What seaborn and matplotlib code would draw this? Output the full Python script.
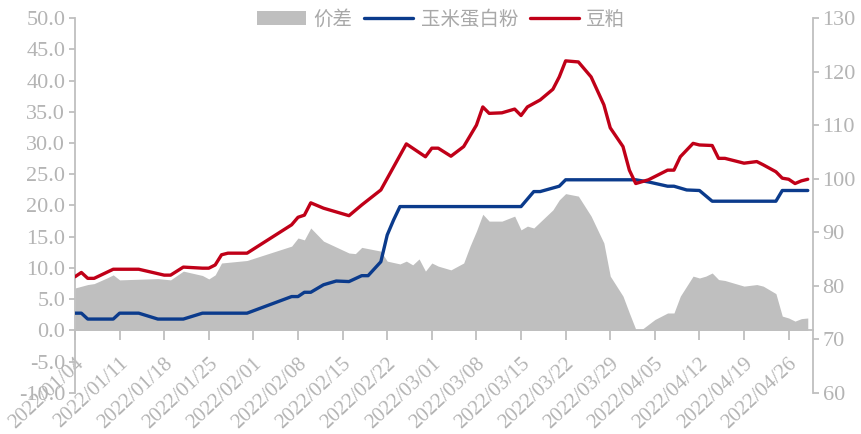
import numpy as np
import pandas as pd
import matplotlib
matplotlib.use('Agg')
import matplotlib.pyplot as plt
import matplotlib.transforms as mtransforms
import seaborn as sns
from matplotlib.patches import Patch
from matplotlib.lines import Line2D

# 豆粕 (right axis)
red_dates = ['01/04', '01/05', '01/06', '01/07', '01/10', '01/14', '01/18', '01/19', '01/21', '01/24',
             '01/25', '01/26', '01/27', '01/28', '01/31', '02/07', '02/08', '02/09', '02/10', '02/12',
             '02/16', '02/18', '02/21', '02/23', '02/25', '02/28', '03/01', '03/02', '03/04', '03/06',
             '03/07', '03/08', '03/09', '03/10', '03/12', '03/14', '03/15', '03/16', '03/18', '03/20',
             '03/21', '03/22', '03/24', '03/26', '03/28', '03/29', '03/31', '04/01', '04/02', '04/04',
             '04/07', '04/08', '04/09', '04/11', '04/12', '04/14', '04/15', '04/16', '04/19', '04/21',
             '04/22', '04/24', '04/25', '04/26', '04/27', '04/28', '04/29']
red_vals = [81.7, 82.5, 81.4, 81.4, 83.1, 83.1, 82.0, 82.0, 83.5, 83.3,
            83.3, 83.9, 85.8, 86.1, 86.1, 91.4, 92.8, 93.2, 95.5, 94.5,
            93.1, 95.1, 97.9, 102.2, 106.5, 104.1, 105.7, 105.7, 104.2, 106.0,
            108.0, 110.0, 113.4, 112.2, 112.3, 113.0, 111.8, 113.4, 114.7, 116.7,
            119.0, 122.0, 121.8, 119.0, 113.8, 109.5, 106.0, 101.6, 99.1, 99.8,
            101.6, 101.6, 104.1, 106.6, 106.3, 106.2, 103.8, 103.8, 102.9, 103.2,
            102.6, 101.3, 100.1, 99.9, 99.1, 99.6, 99.9]

# 玉米蛋白粉 (right axis)
blue_dates = ['01/04', '01/05', '01/06', '01/10', '01/11', '01/14', '01/17', '01/21', '01/24', '01/31',
              '02/07', '02/08', '02/09', '02/10', '02/12', '02/14', '02/16', '02/18', '02/19', '02/21',
              '02/22', '02/23', '02/24', '03/15', '03/17', '03/18', '03/21', '03/22', '04/02', '04/04',
              '04/07', '04/08', '04/10', '04/12', '04/14', '04/24', '04/25', '04/29']
blue_vals = [74.9, 74.9, 73.8, 73.8, 74.9, 74.9, 73.8, 73.8, 74.9, 74.9,
             78.0, 78.0, 78.8, 78.8, 80.2, 80.9, 80.8, 81.9, 81.9, 84.5,
             89.5, 92.3, 94.8, 94.8, 97.6, 97.6, 98.6, 99.8, 99.8, 99.4,
             98.6, 98.6, 97.9, 97.8, 95.8, 95.8, 97.8, 97.8]

# 价差 (left axis)
gap_dates = ['01/04', '01/06', '01/07', '01/09', '01/10', '01/11', '01/17', '01/19', '01/21', '01/24',
             '01/25', '01/26', '01/27', '01/31', '02/07', '02/08', '02/09', '02/10', '02/12', '02/16',
             '02/17', '02/18', '02/21', '02/22', '02/24', '02/25', '02/26', '02/27', '02/28', '03/01',
             '03/02', '03/04', '03/06', '03/07', '03/08', '03/09', '03/10', '03/12', '03/14', '03/15',
             '03/16', '03/17', '03/20', '03/21', '03/22', '03/24', '03/26', '03/28', '03/29', '03/31',
             '04/01', '04/02', '04/03', '04/05', '04/07', '04/08', '04/09', '04/11', '04/12', '04/13',
             '04/14', '04/15', '04/16', '04/19', '04/21', '04/22', '04/24', '04/25', '04/26', '04/27',
             '04/28', '04/29']
gap_vals = [6.8, 7.35, 7.5, 8.4, 8.9, 8.1, 8.3, 8.1, 9.5, 8.8,
            8.25, 8.9, 10.8, 11.2, 13.5, 14.8, 14.5, 16.4, 14.3, 12.4,
            12.3, 13.3, 12.7, 11.1, 10.65, 11.1, 10.5, 11.45, 9.5, 10.8,
            10.3, 9.7, 10.8, 13.5, 15.9, 18.6, 17.5, 17.5, 18.3, 16.1,
            16.7, 16.4, 19.3, 20.9, 21.9, 21.5, 18.3, 14.0, 8.7, 5.5,
            2.8, 0.2, 0.2, 1.75, 2.8, 2.8, 5.5, 8.7, 8.4, 8.7,
            9.2, 8.15, 8.0, 7.1, 7.35, 7.1, 5.9, 2.3, 2.0, 1.5,
            1.9, 2.0]

def to_dt(lst):
    return pd.to_datetime(['2022/' + d for d in lst], format='%Y/%m/%d')

sns.set_style('white')
plt.rcParams['font.family'] = ['Liberation Serif', 'Noto Sans CJK SC']
plt.rcParams['axes.unicode_minus'] = False

c_gray = '#bfbfbf'
c_red = '#c00018'
c_blue = '#0b3b8c'
c_txt = '#b4b4b4'

fig = plt.figure(figsize=(8.62, 4.34), dpi=100)
ax = fig.add_axes([0.087, 0.0945, 0.856, 0.864])
ax2 = ax.twinx()

ax.fill_between(to_dt(gap_dates), 0, gap_vals, color=c_gray, lw=0)
sns.lineplot(x=to_dt(blue_dates), y=blue_vals, ax=ax2, color=c_blue, lw=2.4)
sns.lineplot(x=to_dt(red_dates), y=red_vals, ax=ax2, color=c_red, lw=2.4)

start = pd.Timestamp('2022-01-04')
ax.set_xlim(start, start + pd.Timedelta(days=115.8))
ax.set_ylim(-10, 50)
ax2.set_ylim(60, 130)
ax.set_yticks(np.arange(-10, 51, 5))
ax.set_yticklabels([f'{v:.1f}' for v in np.arange(-10, 51, 5)])
ax2.set_yticks(np.arange(60, 131, 10))
ax.set_xlabel('')
ax2.set_xlabel('')
ax2.set_ylabel('')

ax.spines['bottom'].set_position(('data', 0))
for s in ['top', 'right']:
    ax.spines[s].set_visible(False)
for s in ['top', 'left', 'bottom']:
    ax2.spines[s].set_visible(False)
for s in ['left', 'bottom']:
    ax.spines[s].set_color(c_gray)
    ax.spines[s].set_linewidth(1.3)
ax2.spines['right'].set_color(c_gray)
ax2.spines['right'].set_linewidth(1.3)

ax.tick_params(axis='y', direction='out', length=4, width=1.3, color=c_gray,
               labelcolor=c_txt, labelsize=16, left=True, pad=3)
ax.tick_params(axis='x', direction='out', length=7, width=1.3, color=c_gray,
               labelcolor=c_txt, labelsize=15, bottom=True, pad=2)
ax2.tick_params(axis='y', direction='out', length=4, width=1.3, color=c_gray,
                labelcolor=c_txt, labelsize=16, right=True, pad=3)
ax.grid(False)
ax2.grid(False)

# date ticks, weekly from the first day
ticks = pd.date_range('2022-01-04', '2022-04-26', freq='7D')
ax.set_xticks(ticks)
ax.set_xticklabels([t.strftime('%Y/%m/%d') for t in ticks])
shift = mtransforms.ScaledTranslation(0.06, -0.18, fig.dpi_scale_trans)
for lab in ax.get_xticklabels():
    lab.set_rotation(43)
    lab.set_ha('right')
    lab.set_va('center')
    lab.set_rotation_mode('anchor')
    lab.set_fontsize(15)
    lab.set_color(c_txt)
    lab.set_transform(lab.get_transform() + shift)

handles = [Patch(facecolor=c_gray, edgecolor='none', label='价差'),
           Line2D([], [], color=c_blue, lw=2.4, label='玉米蛋白粉'),
           Line2D([], [], color=c_red, lw=2.4, label='豆粕')]
fig.legend(handles=handles, loc='center', bbox_to_anchor=(0.512, 0.956), ncol=3,
           frameon=False, prop={'family': ['Noto Sans CJK SC'], 'size': 14},
           handlelength=2.5, columnspacing=0.6, handletextpad=0.4, labelcolor='#a8a8a8')

fig.savefig('out.png', dpi=100)
